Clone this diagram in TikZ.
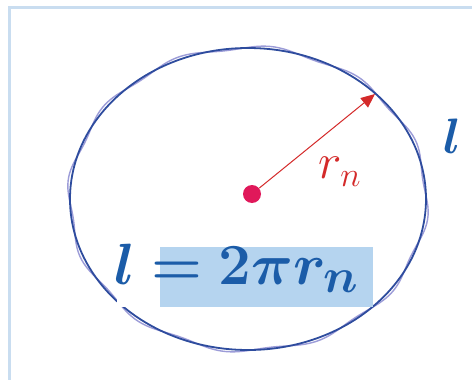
\documentclass[tikz,border=0pt]{standalone}
\usepackage{amsmath,amssymb,bm}
\usepackage{xcolor}
\usetikzlibrary{arrows.meta}
\definecolor{rimblue}{HTML}{2E4C9E}
\definecolor{wavepurple}{HTML}{9C9CD8}
\definecolor{radred}{HTML}{D42A2A}
\definecolor{dotred}{HTML}{E0185A}
\definecolor{eqblue}{HTML}{1B5CA8}
\definecolor{hlblue}{HTML}{B5D4EF}
\definecolor{frameblue}{HTML}{C9DDF0}

\begin{document}
\begin{tikzpicture}[x=0.5pt,y=-0.5pt,
  rim/.style={draw=rimblue,line width=0.9pt},
  wave/.style={draw=wavepurple,line width=0.7pt},
  ar/.style={-{Triangle[length=7pt,width=6pt]},line width=0.5pt,radred},
  centre/.style={circle,fill=dotred,inner sep=0pt,minimum size=9pt},
  eq/.style={text=eqblue,inner sep=0pt},
  lbl/.style={text=radred,inner sep=0pt}]
\useasboundingbox (0,0) rectangle (472,380);
\fill[white] (0,0) rectangle (472,380);

% ---- frame: left and top edge ----
\draw[frameblue,line width=1.5pt] (9,380) -- (9,7) -- (472,7);

% ---- circle and its wavy polygon ----
\draw[wave] plot[domain=0:360,samples=240,smooth]
  ({248+178*(1.004+0.014*sin(12*\x))*cos(\x)},{199+151*(1.004+0.014*sin(12*\x))*sin(\x)});
\draw[rim] (248,199) ellipse [x radius=178,y radius=151];

% ---- radius ----
\node[centre] (ctr) at (252,194) {};
\coordinate (tip) at (375,94);
\draw[ar] (ctr) -- (tip);
\node[lbl,font=\huge,scale=1.2] (rn) at (340,172) {$r_n$};

% ---- length label ----
\node[eq,font=\Huge] (len) at (452,136) {$\bm{l}$};

% ---- formula ----
\fill[white] (117,247) rectangle (160,307);
\fill[hlblue] (160,247) rectangle (373,307);
\node[eq,anchor=base west,font=\Huge,scale=1.17] (form) at (114,284)
  {$\bm{l = 2\pi r_n}$};
\end{tikzpicture}
\end{document}
